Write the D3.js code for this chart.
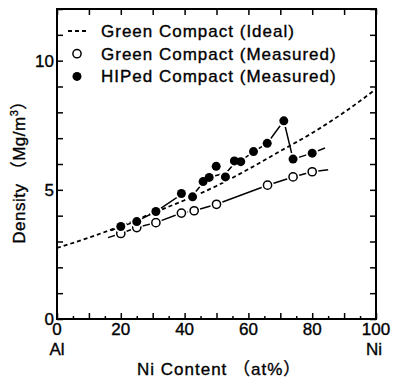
<!DOCTYPE html>
<html>
<head>
<meta charset="utf-8">
<script src="https://cdn.jsdelivr.net/npm/d3@7"></script>
<style>
  body { margin: 0; background: #fff; }
  text { font-family: "Liberation Sans", Arial, "Noto Sans CJK JP", sans-serif; fill: #000; stroke: #000; stroke-width: 0.35px; }
</style>
</head>
<body>
<div id="vis"></div>
<script>
var margin = { top: 9, right: 17, bottom: 65, left: 57 };
var width = 393 - margin.left - margin.right,
    height = 384 - margin.top - margin.bottom;

// ideal green compact density
const idealX = [0, 10, 20, 30, 40, 50, 60, 70, 80, 90, 100];
const idealY = [2.75, 3.15, 3.6, 4.1, 4.6, 5.15, 5.8, 6.5, 7.2, 8.0, 8.9];

// green compact measured (open circles)
const greenX = [20, 25, 31, 39, 43, 50, 66, 74, 80];
const greenY = [3.31, 3.54, 3.73, 4.10, 4.19, 4.44, 5.18, 5.50, 5.70];
const greenLineX = [16, 20, 25, 31, 39, 43, 50, 66, 74, 80, 85];
const greenLineY = [3.15, 3.31, 3.54, 3.73, 4.10, 4.19, 4.44, 5.18, 5.50, 5.70, 5.78];

// HIPed compact measured (filled circles)
const hipX = [20, 25, 31, 39, 42.5, 45.8, 47.7, 49.9, 52.8, 55.6, 57.6, 61.6, 65.9, 71.1, 74, 80];
const hipY = [3.58, 3.77, 4.16, 4.86, 4.73, 5.32, 5.48, 5.91, 5.50, 6.12, 6.09, 6.48, 6.80, 7.67, 6.19, 6.42];
const hipLineX = [17, 20, 25, 31, 39, 42.5, 46, 48, 53, 56, 58, 61.6, 65.9, 71.1, 74, 80, 84];
const hipLineY = [3.42, 3.58, 3.78, 4.16, 4.82, 4.78, 5.3, 5.5, 5.65, 6.08, 6.15, 6.48, 6.8, 7.67, 6.19, 6.42, 6.62];

const xTicks = [0, 20, 40, 60, 80, 100];
const yTicks = [0, 5, 10];
const legendLabels = ["Green Compact (Ideal)", "Green Compact (Measured)", "HIPed Compact (Measured)"];

var svg = d3.select("#vis")
    .append("svg")
    .attr("width", width + margin.left + margin.right)
    .attr("height", height + margin.top + margin.bottom)
    .append("g")
    .attr("transform", "translate(" + margin.left + "," + margin.top + ")");

var x = d3.scaleLinear().domain([0, 100]).range([0, width]);
var y = d3.scaleLinear().domain([0, 12]).range([height, 0]);

// axes, ticks pointing inward
{
    svg.append("g")
        .attr("transform", "translate(0," + height + ")")
        .call(d3.axisTop(x).tickValues(d3.range(0, 101, 5)).tickFormat("")
            .tickSize(0).tickSizeOuter(0))
        .call(g => g.select(".domain").remove())
        .call(g => g.selectAll(".tick line")
            .attr("y2", d => d % 10 === 0 ? -6 : -3)
            .attr("stroke-width", 1.5));

    svg.append("g")
        .call(d3.axisBottom(x).tickValues(d3.range(0, 101, 10)).tickFormat("").tickSize(6).tickSizeOuter(0))
        .call(g => g.select(".domain").remove())
        .call(g => g.selectAll(".tick line").attr("stroke-width", 1.5));

    svg.append("g")
        .call(d3.axisRight(y).ticks(12).tickFormat("").tickSize(6).tickSizeOuter(0))
        .call(g => g.select(".domain").remove())
        .call(g => g.selectAll(".tick line").attr("stroke-width", 1.5));

    svg.append("g")
        .attr("transform", "translate(" + width + ",0)")
        .call(d3.axisLeft(y).ticks(12).tickFormat("").tickSize(6).tickSizeOuter(0))
        .call(g => g.select(".domain").remove())
        .call(g => g.selectAll(".tick line").attr("stroke-width", 1.5));

    svg.append("rect")
        .attr("width", width)
        .attr("height", height)
        .attr("fill", "none")
        .attr("stroke", "#000")
        .attr("stroke-width", 2);

    svg.selectAll(".xlab")
        .data(xTicks)
        .enter().append("text")
        .attr("class", "xlab")
        .attr("x", d => x(d))
        .attr("y", height + 16)
        .attr("text-anchor", "middle")
        .style("font-size", "17px")
        .text(d => d);

    svg.selectAll(".ylab")
        .data(yTicks)
        .enter().append("text")
        .attr("class", "ylab")
        .attr("x", -3)
        .attr("y", d => y(d) + 6)
        .attr("text-anchor", "end")
        .style("font-size", "17px")
        .text(d => d);

    svg.append("text")
        .attr("x", x(0))
        .attr("y", height + 36)
        .attr("text-anchor", "middle")
        .style("font-size", "17px")
        .text("Al");

    svg.append("text")
        .attr("x", x(100) - 2)
        .attr("y", height + 36)
        .attr("text-anchor", "middle")
        .style("font-size", "17px")
        .text("Ni");

    svg.append("text")
        .attr("x", 80)
        .attr("y", height + 56)
        .style("font-size", "17px")
        .style("letter-spacing", "1px")
        .text("Ni Content （at%）");

    var ytitle = svg.append("text")
        .attr("transform", "translate(" + (25 - margin.left) + "," + (168 - margin.top) + ") rotate(-90)")
        .attr("text-anchor", "middle")
        .style("font-size", "17px")
        .style("letter-spacing", "0.5px");
    ytitle.append("tspan").text("Density （Mg/m");
    ytitle.append("tspan").attr("dy", -7).style("font-size", "11px").text("3");
    ytitle.append("tspan").attr("dy", 7).text("）");
}

var line = d3.line()
    .x(d => x(d[0]))
    .y(d => y(d[1]));

// ideal curve
svg.append("path")
    .datum(d3.zip(idealX, idealY))
    .attr("d", line.curve(d3.curveMonotoneX))
    .attr("fill", "none")
    .attr("stroke", "#000")
    .attr("stroke-width", 1.8)
    .attr("stroke-dasharray", "4,3");

line.curve(d3.curveLinear);

function drawSeries(lx, ly, px, py, filled) {
    svg.append("path")
        .datum(d3.zip(lx, ly))
        .attr("d", line)
        .attr("fill", "none")
        .attr("stroke", "#000")
        .attr("stroke-width", 1.5);

    var pts = d3.zip(px, py);
    // white halo so the line breaks around each marker
    svg.append("g").selectAll("circle")
        .data(pts).enter().append("circle")
        .attr("cx", d => x(d[0]))
        .attr("cy", d => y(d[1]))
        .attr("r", 6.3)
        .attr("fill", "#fff");

    svg.append("g").selectAll("circle")
        .data(pts).enter().append("circle")
        .attr("cx", d => x(d[0]))
        .attr("cy", d => y(d[1]))
        .attr("r", filled ? 4.5 : 4.1)
        .attr("fill", filled ? "#000" : "#fff")
        .attr("stroke", "#000")
        .attr("stroke-width", filled ? 0 : 1.5);
}

drawSeries(greenLineX, greenLineY, greenX, greenY, false);
drawSeries(hipLineX, hipLineY, hipX, hipY, true);

// legend
var legend = svg.selectAll(".legend")
    .data(legendLabels)
    .enter().append("g")
    .attr("class", "legend")
    .attr("transform", (d, i) => "translate(0," + (22 + i * 22.7) + ")");

legend.append("text")
    .attr("x", 44)
    .attr("y", 6)
    .style("font-size", "17px")
    .style("letter-spacing", "1px")
    .text(d => d);

legend.filter((d, i) => i === 0).append("line")
    .attr("x1", 11).attr("x2", 30)
    .attr("stroke", "#000")
    .attr("stroke-width", 1.8)
    .attr("stroke-dasharray", "4,3");

legend.filter((d, i) => i > 0).append("circle")
    .attr("cx", 20)
    .attr("r", (d, i) => i === 0 ? 4.1 : 4.5)
    .attr("fill", (d, i) => i === 0 ? "#fff" : "#000")
    .attr("stroke", "#000")
    .attr("stroke-width", (d, i) => i === 0 ? 1.5 : 0);
</script>
</body>
</html>
